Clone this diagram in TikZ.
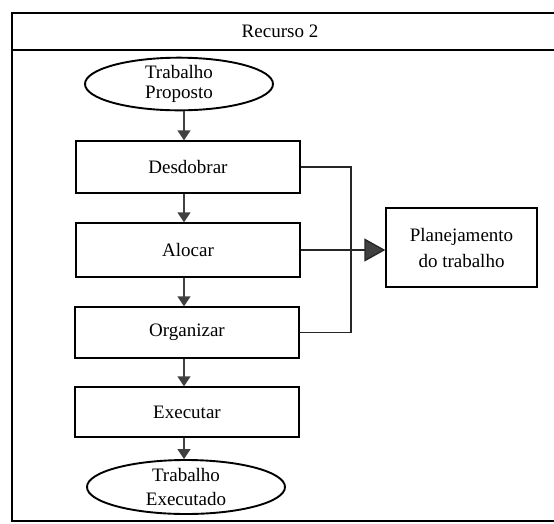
\documentclass[tikz,border=0pt]{standalone}
\usepackage{fontspec}
\setmainfont{Liberation Serif}
\usetikzlibrary{arrows.meta,shapes.geometric}
\definecolor{tipgray}{HTML}{404040}
\tikzset{
  every node/.style={font=\fontsize{19}{20}\selectfont},
  stepbox/.style={draw=black, line width=1.4pt, rectangle, minimum width=224pt,
    minimum height=52pt, inner sep=0pt},
  terminal/.style={draw=black, line width=1.9pt, ellipse, inner sep=0pt, align=center},
  flow/.style={draw=tipgray, line width=1.4pt,
    -{Triangle[width=13pt,length=10pt,fill=tipgray]}},
  bigflow/.style={draw=black!85, line width=1.4pt,
    -{Triangle[width=23pt,length=21pt,fill=tipgray]}},
  bracket/.style={draw=black!85, line width=1.4pt}
}
\begin{document}
\begin{tikzpicture}[x=1pt,y=-1pt]
\useasboundingbox (0,0) rectangle (554,523);
% outer frame with title band
\draw[line width=1.6pt] (12,13) rectangle (562,521);
\draw[line width=1.6pt] (12,50) -- (562,50);
\node (title) at (280,31) {Recurso 2};

% column of the main flow
\coordinate (colx) at (184,0);

\node[terminal, minimum width=188pt, minimum height=52pt,
  font=\fontsize{19}{20}\selectfont] (tp) at (179,84) {Trabalho\\Proposto};
\node[stepbox] (d) at (188,167) {Desdobrar};
\node[stepbox, minimum height=54pt] (a) at (188,250) {Alocar};
\node[stepbox, minimum height=51pt] (o) at (187,332.5) {Organizar};
\node[stepbox, minimum height=50pt] (e) at (187,412) {Executar};
\node[terminal, minimum width=198pt, minimum height=54pt,
  font=\fontsize{19}{24}\selectfont] (te) at (186,487) {Trabalho\\Executado};

\node[draw=black, line width=1.4pt, minimum width=151pt, minimum height=79pt,
  inner sep=0pt, align=center, font=\fontsize{19}{26}\selectfont] (p)
  at (461.5,247.5) {Planejamento\\do trabalho};

% main flow arrows
\draw[flow] (tp.south -| colx) -- (d.north -| colx);
\draw[flow] (d.south -| colx) -- (a.north -| colx);
\draw[flow] (a.south -| colx) -- (o.north -| colx);
\draw[flow] (o.south -| colx) -- (e.north -| colx);
\draw[flow] (e.south -| colx) -- (te.north -| colx);

% bracket joining Desdobrar and Organizar
\coordinate (brk) at (351,250);
\draw[bracket] (d.east) -| (brk) |- (o.east);

% arrow into Planejamento
\draw[bigflow] (a.east) -- (a.east -| p.west);
\end{tikzpicture}
\end{document}
